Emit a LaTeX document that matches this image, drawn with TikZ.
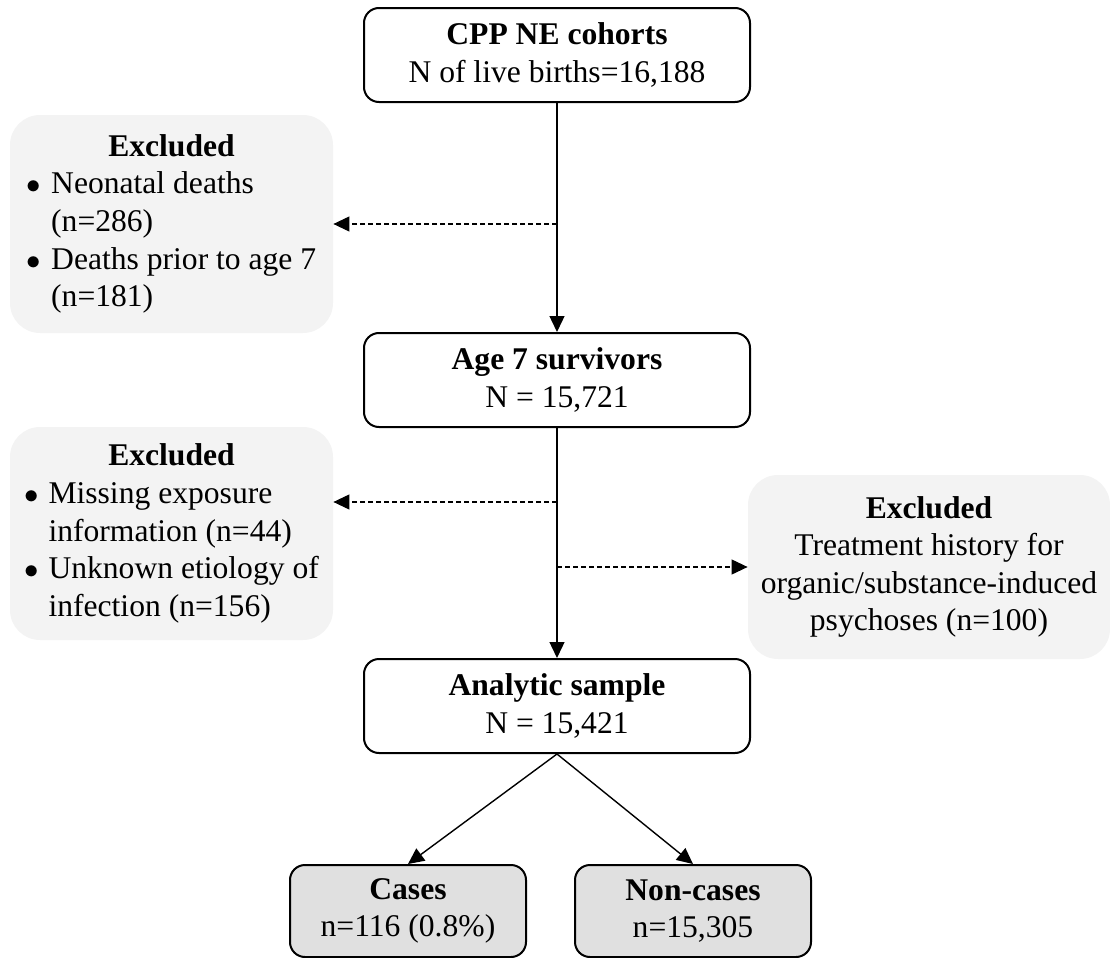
\documentclass[tikz,border=0pt]{standalone}
\usepackage{fontspec}
\setmainfont{Liberation Serif}
\usetikzlibrary{arrows.meta}
\definecolor{exclgray}{HTML}{F3F3F3}
\definecolor{groupgray}{HTML}{E0E0E0}

\begin{document}
\begin{tikzpicture}[x=0.5pt,y=-0.5pt,
	font=\fontsize{15.8}{18.8}\selectfont,
	stagebox/.style={draw,line width=1pt,rounded corners=7.5pt,align=center,minimum width=193pt,minimum height=47pt,inner sep=0pt},
	exclbox/.style={fill=exclgray,rounded corners=15pt,align=center,inner sep=0pt},
	groupbox/.style={stagebox,fill=groupgray,minimum width=118pt,minimum height=46pt},
	flow/.style={line width=0.7pt,-{Triangle[length=8pt,width=7.5pt]}},
	side/.style={flow,line width=0.55pt,dash pattern=on 2.5pt off 1.5pt}]
			\useasboundingbox (0,0) rectangle (1110,958);
			\node[stagebox] (cohort) at (557,55) {\textbf{CPP NE cohorts}\\N of live births=16,188};
			\node[stagebox] (age7) at (557,380) {\textbf{Age 7 survivors}\\N = 15,721};
			\node[stagebox] (sample) at (557,706) {\textbf{Analytic sample}\\N = 15,421};
			\node[exclbox,minimum width=161.5pt,minimum height=109pt] (excl1) at (171.5,224) {\begin{tabular}{@{}l@{\hspace{5pt}}l@{}}
				\multicolumn{2}{c}{\textbf{Excluded}}\\
				$\bullet$ & Neonatal deaths\\
				& (n=286)\\
				$\bullet$ & Deaths prior to age 7\\
				& (n=181)
			\end{tabular}};
			\node[exclbox,minimum width=161.5pt,minimum height=106.5pt] (excl2) at (171.5,533.5) {\begin{tabular}{@{}l@{\hspace{5pt}}l@{}}
				\multicolumn{2}{c}{\textbf{Excluded}}\\
				$\bullet$ & Missing exposure\\
				& information (n=44)\\
				$\bullet$ & Unknown etiology of\\
				& infection (n=156)
			\end{tabular}};
			\node[exclbox,minimum width=181pt,minimum height=92pt] (excl3) at (929,567) {\textbf{Excluded}\\Treatment history for\\organic/substance-induced\\psychoses (n=100)};
			\node[groupbox] (cases) at (408,911) {\textbf{Cases}\\n=116 (0.8\%)};
			\node[groupbox] (noncases) at (693,911) {\textbf{Non-cases}\\n=15,305};
			\coordinate (cut1) at (557,224);
			\coordinate (cut2) at (557,502);
			\coordinate (cut3) at (557,567);
			\draw[flow] (cohort) -- (age7);
			\draw[side] (cut1) -- (excl1.east);
			\draw[flow] (age7) -- (sample);
			\draw[side] (cut2) -- (cut2 -| excl2.east);
			\draw[side] (cut3) -- (excl3.west);
			\draw[flow] (sample.south) -- (cases.north);
			\draw[flow] (sample.south) -- (noncases.north);
\end{tikzpicture}
\end{document}
